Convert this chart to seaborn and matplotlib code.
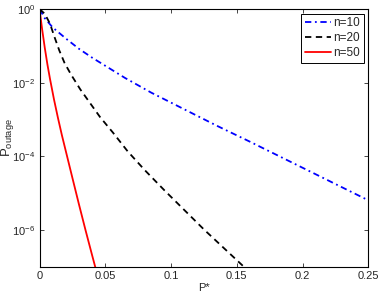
import numpy as np
import pandas as pd
import matplotlib
matplotlib.use("Agg")
import matplotlib.pyplot as plt
import seaborn as sns

# P* values and log10(P_outage)
x_n10 = [0, 0.004, 0.01, 0.02, 0.03, 0.04, 0.05, 0.065, 0.085, 0.11, 0.135, 0.16, 0.19, 0.22, 0.25]
log_n10 = [0, -0.25, -0.5, -0.8, -1.08, -1.32, -1.54, -1.87, -2.27, -2.72, -3.17, -3.6, -4.13, -4.66, -5.19]

x_n20 = [0, 0.004, 0.008, 0.0115, 0.015, 0.019, 0.024, 0.031, 0.038, 0.046, 0.056, 0.067,
         0.08, 0.095, 0.11, 0.125, 0.14, 0.155, 0.16]
log_n20 = [0, -0.13, -0.4, -0.77, -1.12, -1.46, -1.78, -2.18, -2.53, -2.93, -3.36, -3.86,
           -4.37, -4.92, -5.45, -5.98, -6.48, -6.98, -7.15]

x_n50 = [0, 0.002, 0.004, 0.006, 0.008, 0.011, 0.014, 0.017, 0.021, 0.025, 0.03, 0.035, 0.04, 0.045]
log_n50 = [0, -0.55, -1.05, -1.5, -1.9, -2.45, -2.95, -3.42, -4.0, -4.58, -5.3, -6.0, -6.68, -7.35]

series = [
    ("n=10", x_n10, log_n10, (0, 0, 1), (3.5, 2, 1, 2)),
    ("n=20", x_n20, log_n20, "black", (3.5, 2.5)),
    ("n=50", x_n50, log_n50, (1, 0, 0), None),
]

sns.set_style("ticks")
plt.rcParams['font.family'] = ['Liberation Sans', 'DejaVu Sans']
plt.rcParams['mathtext.fontset'] = 'custom'
plt.rcParams['mathtext.rm'] = 'Liberation Sans'
plt.rcParams['mathtext.it'] = 'Liberation Sans'
plt.rcParams['mathtext.bf'] = 'Liberation Sans'

fig = plt.figure(figsize=(3.78, 2.94), dpi=100)
ax = fig.add_axes([0.1045, 0.0918, 0.8698, 0.8776])

for name, xs, logs, col, dash in series:
    df = pd.DataFrame({"P": xs, "Pout": np.power(10.0, logs)})
    sns.lineplot(data=df, x="P", y="Pout", ax=ax, estimator=None, sort=False,
                 color=col, linewidth=1.3, label=name)
    if dash is not None:
        ax.lines[-1].set_dashes(dash)

ax.set_yscale("log")
ax.set_xlim(0, 0.25)
ax.set_ylim(1e-7, 1)
ax.set_xticks([0, 0.05, 0.1, 0.15, 0.2, 0.25])
ax.set_xticklabels(["0", "0.05", "0.1", "0.15", "0.2", "0.25"])
ax.set_yticks([1e-6, 1e-4, 1e-2, 1e0])
ax.set_yticklabels([r"$10^{-6}$", r"$10^{-4}$", r"$10^{-2}$", r"$10^{0}$"])
ax.yaxis.set_minor_locator(matplotlib.ticker.NullLocator())
ax.tick_params(direction="in", top=True, right=True, labelsize=8, length=3, width=0.6, pad=3)
for sp in ax.spines.values():
    sp.set_linewidth(0.8)
    sp.set_color("black")

ax.set_xlabel("P*", fontsize=8, labelpad=1)
ax.set_ylabel(r"$\mathrm{P_{outage}}$", fontsize=9.5, labelpad=-3)

leg = ax.legend(loc="upper right", fontsize=8.5, frameon=True, fancybox=False,
                edgecolor="black", framealpha=1, handlelength=2.2, handletextpad=0.2,
                borderpad=0.3, labelspacing=0.25, borderaxespad=0.4)
leg.get_frame().set_linewidth(0.7)

fig.savefig("out.png", dpi=100)
